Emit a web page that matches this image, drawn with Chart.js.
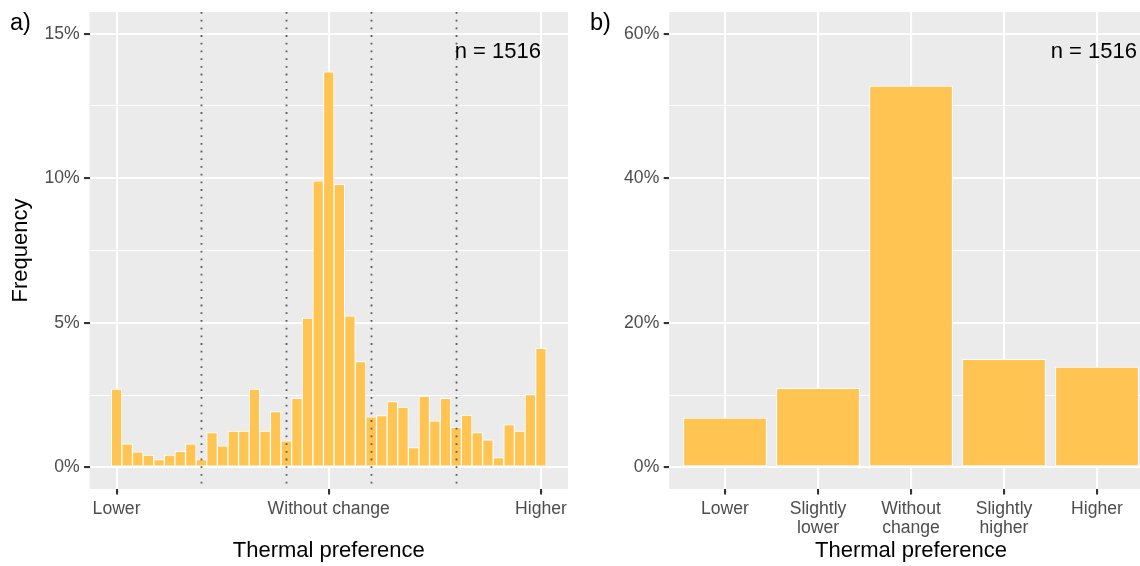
<!DOCTYPE html>
<html>
<head>
<meta charset="utf-8">
<script src="https://cdn.jsdelivr.net/npm/chart.js@4.4.0/dist/chart.umd.min.js"></script>
<style>
  html, body { margin:0; padding:0; background:#ffffff; overflow:hidden; width:1140px; height:566px; }
  #ca { position:absolute; left:0; top:0; }
  #cb { position:absolute; left:580px; top:0; }
</style>
</head>
<body>
<canvas id="ca" width="580" height="566"></canvas>
<canvas id="cb" width="580" height="566"></canvas>
<script>
// ---------- Panel a: histogram of thermal preference ----------
const binCentersA = [-1.00,-0.95,-0.90,-0.85,-0.80,-0.75,-0.70,-0.65,-0.60,-0.55,
                     -0.50,-0.45,-0.40,-0.35,-0.30,-0.25,-0.20,-0.15,-0.10,-0.05,
                      0.00, 0.05, 0.10, 0.15, 0.20, 0.25, 0.30, 0.35, 0.40, 0.45,
                      0.50, 0.55, 0.60, 0.65, 0.70, 0.75, 0.80, 0.85, 0.90, 0.95, 1.00];
const freqA = [2.71,0.81,0.54,0.42,0.27,0.42,0.55,0.81,0.27,1.20,
               0.74,1.25,1.25,2.71,1.25,1.93,0.92,2.39,5.16,9.91,
               13.68,9.79,5.24,3.66,1.75,1.79,2.27,2.08,0.68,2.46,
               1.61,2.39,1.38,1.81,1.20,0.95,0.34,1.48,1.25,2.52,4.12];
const xTickValuesA = [-1, 0, 1];
const xTickLabelsA = ['Lower', 'Without change', 'Higher'];
const yMajorA = [0, 5, 10, 15];
const yMinorA = [2.5, 7.5, 12.5];
const dividersA = [-0.6, -0.2, 0.2, 0.6];
const annotA = { x: 1, y: 15, text: 'n = 1516' };

// ---------- Panel b: grouped thermal preference ----------
const categoriesB = [['Lower'], ['Slightly', 'lower'], ['Without', 'change'], ['Slightly', 'higher'], ['Higher']];
const freqB = [6.85, 10.98, 52.8, 14.98, 13.93];
const yMajorB = [0, 20, 40, 60];
const yMinorB = [10, 30, 50];
const annotB = { x: 5.43, y: 60, text: 'n = 1516' };

const FAMILY = "'Liberation Sans', Arial, Helvetica, sans-serif";
Chart.defaults.font.family = FAMILY;

const BAR = '#FFC451';
const PANEL = '#EBEBEB';
const TICKTXT = '#4D4D4D';
const TICKMARK = '#333333';
const TICKFONT = { family: FAMILY, size: 17.6 };
const TITLEFONT = { family: FAMILY, size: 22 };

const bgPlugin = {
  id: 'panelBg',
  beforeDraw(chart) {
    const { ctx, chartArea: a } = chart;
    ctx.save();
    ctx.fillStyle = '#ffffff';
    ctx.fillRect(0, 0, chart.width, chart.height);
    ctx.fillStyle = PANEL;
    ctx.fillRect(a.left, a.top, a.right - a.left, a.bottom - a.top);
    ctx.restore();
  }
};

function textPlugin(tag, annot, dividers) {
  return {
    id: 'text_' + tag,
    afterDatasetsDraw(chart) {
      const { ctx, chartArea: a, scales } = chart;
      ctx.save();
      if (dividers) {
        ctx.strokeStyle = '#5a5a5a';
        ctx.lineWidth = 1.8;
        ctx.setLineDash([1.8, 5.9]);
        dividers.forEach(v => {
          const x = Math.round(scales.x.getPixelForValue(v)) + 0.5;
          ctx.beginPath();
          ctx.moveTo(x, a.top);
          ctx.lineTo(x, a.bottom);
          ctx.stroke();
        });
        ctx.setLineDash([]);
      }
      ctx.fillStyle = '#000000';
      ctx.font = `22px ${FAMILY}`;
      ctx.textAlign = 'right';
      ctx.textBaseline = 'alphabetic';
      ctx.fillText(annot.text, scales.x.getPixelForValue(annot.x), scales.y.getPixelForValue(annot.y) + 24);
      ctx.textAlign = 'left';
      ctx.font = `23.5px ${FAMILY}`;
      ctx.fillText(tag, 10, 30);
      ctx.restore();
    }
  };
}

function yScale(min, max, majors, minors, width, title) {
  return {
    type: 'linear', min, max,
    afterBuildTicks: s => { s.ticks = majors.concat(minors).sort((p, q) => p - q).map(v => ({ value: v })); },
    afterFit: s => { s.width = width; s.paddingTop = 0; s.paddingBottom = 0; },
    ticks: {
      autoSkip: false, padding: 4.4, font: TICKFONT, color: TICKTXT,
      callback: v => (majors.includes(v) ? v + '%' : '')
    },
    grid: {
      offset: false,
      color: '#ffffff',
      lineWidth: c => (c.tick && majors.includes(c.tick.value) ? 2.1 : 1.05),
      drawTicks: true, tickLength: 5.5, tickWidth: 2.1,
      tickColor: c => (c.tick && majors.includes(c.tick.value) ? TICKMARK : 'rgba(0,0,0,0)')
    },
    border: { display: false },
    title: title ? { display: true, text: title, font: TITLEFONT, color: '#000000', padding: { top: 7.8, bottom: 0 } } : { display: false }
  };
}

function xScale(min, max, values, labelFn, height) {
  return {
    type: 'linear', min, max, offset: false,
    afterBuildTicks: s => { s.ticks = values.map(v => ({ value: v })); },
    afterFit: s => { s.height = height; s.paddingLeft = 0; s.paddingRight = 0; },
    ticks: {
      autoSkip: false, maxRotation: 0, minRotation: 0, padding: 4.4,
      font: Object.assign({ lineHeight: 1.12 }, TICKFONT), color: TICKTXT,
      callback: labelFn
    },
    grid: { offset: false, color: '#ffffff', lineWidth: 2.1, drawTicks: true, tickLength: 5.5, tickWidth: 2.1, tickColor: TICKMARK },
    border: { display: false },
    title: { display: true, text: 'Thermal preference', font: TITLEFONT, color: '#000000', padding: { top: 0, bottom: 1.5 } }
  };
}

new Chart(document.getElementById('ca'), {
  type: 'bar',
  data: {
    datasets: [{
      data: binCentersA.map((x, i) => ({ x, y: freqA[i] })),
      backgroundColor: BAR, borderColor: '#ffffff', borderWidth: 1, borderSkipped: false,
      categoryPercentage: 1, barPercentage: 1
    }]
  },
  options: {
    responsive: false, animation: false, devicePixelRatio: 1,
    layout: { padding: { left: 0, right: 12, top: 12, bottom: 0 } },
    plugins: { legend: { display: false }, tooltip: { enabled: false } },
    scales: {
      x: xScale(-1.1275, 1.1275, xTickValuesA, v => xTickLabelsA[xTickValuesA.indexOf(v)], 77),
      y: yScale(-0.75, 15.75, yMajorA, yMinorA, 89.5, 'Frequency')
    }
  },
  plugins: [bgPlugin, textPlugin('a)', annotA, dividersA)]
});

const xPosB = categoriesB.map((c, i) => i + 1);
new Chart(document.getElementById('cb'), {
  type: 'bar',
  data: {
    datasets: [{
      data: xPosB.map((x, i) => ({ x, y: freqB[i] })),
      backgroundColor: BAR, borderColor: '#ffffff', borderWidth: 1, borderSkipped: false,
      categoryPercentage: 0.9, barPercentage: 1
    }]
  },
  options: {
    responsive: false, animation: false, devicePixelRatio: 1,
    layout: { padding: { left: 0, right: 7.2, top: 12, bottom: 0 } },
    plugins: { legend: { display: false }, tooltip: { enabled: false } },
    scales: {
      x: xScale(0.4, 5.6, xPosB, v => categoriesB[xPosB.indexOf(v)], 77),
      y: yScale(-3, 63, yMajorB, yMinorB, 89.2, null)
    }
  },
  plugins: [bgPlugin, textPlugin('b)', annotB, null)]
});
</script>
</body>
</html>
